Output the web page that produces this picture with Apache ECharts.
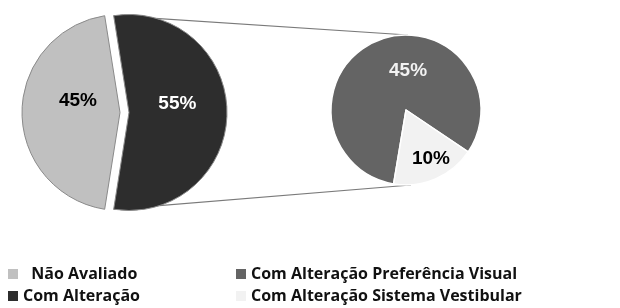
<!DOCTYPE html>
<html>
<head>
<meta charset="utf-8">
<script src="https://cdn.jsdelivr.net/npm/echarts@6/dist/echarts.min.js"></script>
<style>
  html, body { margin: 0; padding: 0; background: #fff; }
  #chart { width: 620px; height: 308px; }
</style>
</head>
<body>
<div id="chart"></div>
<script>
// left pie (order chosen so the dark slice sits on the right)
const mainNames = ['Com Alteração', 'Não Avaliado']
const mainValues = [55, 45]
// breakdown of "Com Alteração"
const subNames = ['Com Alteração Preferência Visual', 'Com Alteração Sistema Vestibular']
const subValues = [45, 10]

const mainColors = ['#2d2d2d', '#c0c0c0']
const subColors = ['#646464', '#f2f2f2']
const mainLabelColors = ['#fff', '#000']
const subLabelColors = ['#f2f2f2', '#000']
const mainLabelOffsets = [[7, -9], [7, -12]]
const subLabelOffsets = [[18, -2], [9, 12]]

// layout
const mainCenter = [124.5, 112.5]
const mainRadius = 98
const mainStart = 99
const explode = 4.5
const subCenter = [406, 110]
const subRadius = 75

const labelFont = {
  fontFamily: 'Liberation Sans',
  fontWeight: 'bold',
  fontSize: 19
}

const legendText = {
  fontFamily: 'Open Sans',
  fontWeight: 'bold',
  fontSize: 16,
  lineHeight: 16,
  color: '#111'
}

// connector lines: from the edge of the dark slice to top/bottom of the sub pie
const a = mainStart * Math.PI / 180
const darkCx = mainCenter[0] + explode
const px = darkCx + mainRadius * Math.cos(a)
const pyTop = mainCenter[1] - mainRadius * Math.sin(a)
const pyBot = mainCenter[1] + mainRadius * Math.sin(a)

const chart = echarts.init(document.getElementById('chart'))

function mainLabel (i) {
  return Object.assign({
    show: true,
    position: 'inside',
    formatter: '{c}%',
    color: mainLabelColors[i],
    offset: mainLabelOffsets[i]
  }, labelFont)
}

function legendBox (left, names) {
  return {
    orient: 'vertical',
    left: left,
    top: 266,
    padding: 0,
    itemWidth: 10,
    itemHeight: 10,
    itemGap: 6,
    icon: 'rect',
    itemStyle: { borderWidth: 0 },
    data: names,
    // the reference has a wider gap before this one
    formatter: (name) => name === 'Não Avaliado' ? '  ' + name : name,
    textStyle: legendText,
    selectedMode: false
  }
}

chart.setOption({
  backgroundColor: '#fff',
  animation: false,
  legend: [
    legendBox(8, ['Não Avaliado', 'Com Alteração']),
    legendBox(236, subNames)
  ],
  graphic: [
    {
      type: 'line',
      z: 0,
      shape: { x1: px, y1: pyTop, x2: subCenter[0] + 2, y2: subCenter[1] - subRadius },
      style: { stroke: '#7a7a7a', lineWidth: 1.2 }
    },
    {
      type: 'line',
      z: 0,
      shape: { x1: px, y1: pyBot, x2: subCenter[0] + 5, y2: subCenter[1] + subRadius },
      style: { stroke: '#7a7a7a', lineWidth: 1.2 }
    }
  ],
  series: [
    {
      type: 'pie',
      center: mainCenter,
      radius: mainRadius,
      startAngle: mainStart,
      clockwise: true,
      selectedMode: 'multiple',
      selectedOffset: explode,
      emphasis: { disabled: true },
      labelLine: { show: false },
      data: mainNames.map((name, i) => ({
        name: name,
        value: mainValues[i],
        selected: true,
        itemStyle: { color: mainColors[i], borderColor: '#8a8a8a', borderWidth: 1 },
        label: mainLabel(i),
        select: { label: mainLabel(i), itemStyle: { color: mainColors[i], borderColor: '#8a8a8a', borderWidth: 1 } }
      }))
    },
    {
      type: 'pie',
      center: subCenter,
      radius: subRadius,
      startAngle: 260.5,
      clockwise: true,
      emphasis: { disabled: true },
      labelLine: { show: false },
      data: subNames.map((name, i) => ({
        name: name,
        value: subValues[i],
        itemStyle: { color: subColors[i], borderColor: '#fff', borderWidth: 1.5 },
        label: Object.assign({
          show: true,
          position: 'inside',
          formatter: '{c}%',
          color: subLabelColors[i],
          offset: subLabelOffsets[i]
        }, labelFont)
      }))
    }
  ]
})
</script>
</body>
</html>
